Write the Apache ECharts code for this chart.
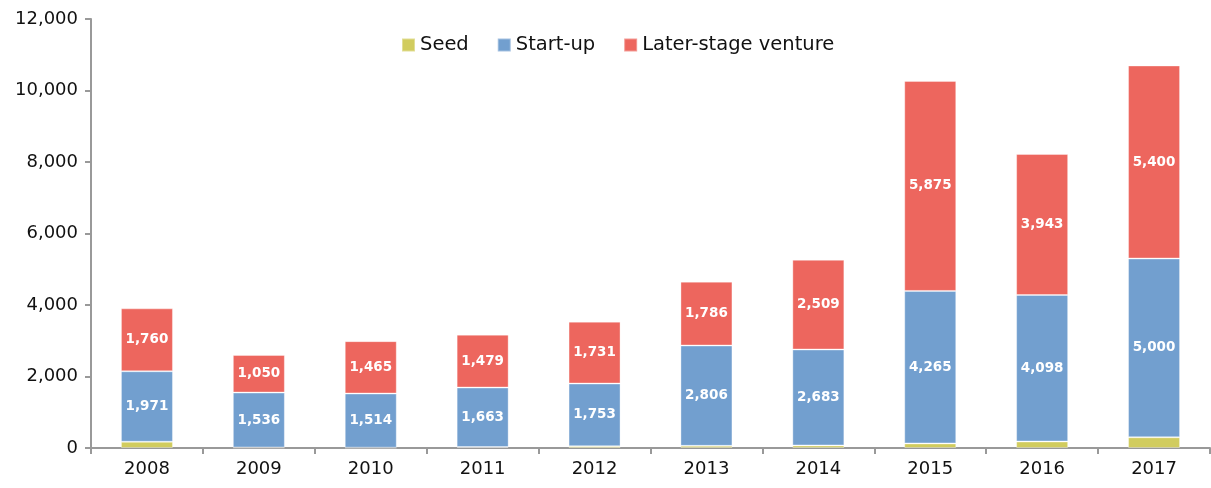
<!DOCTYPE html>
<html>
<head>
<meta charset="utf-8">
<script src="https://cdn.jsdelivr.net/npm/echarts@6/dist/echarts.min.js"></script>
<style>
  html, body { margin: 0; padding: 0; background: #fff; }
  #chart { width: 1211px; height: 488px; }
</style>
</head>
<body>
<div id="chart"></div>
<script>
// Venture capital investment by stage, EUR million
const years = ['2008', '2009', '2010', '2011', '2012', '2013', '2014', '2015', '2016', '2017'];
const seed = [175, 15, 10, 28, 50, 61, 72, 128, 182, 300];
const startUp = [1971, 1536, 1514, 1663, 1753, 2806, 2683, 4265, 4098, 5000];
const laterStage = [1760, 1050, 1465, 1479, 1731, 1786, 2509, 5875, 3943, 5400];
const seriesNames = ['Seed', 'Start-up', 'Later-stage venture'];
const colors = ['#D1CC5E', '#729FCF', '#ED665E'];

const FONT = 'DejaVu Sans';
const fmt = v => v.toLocaleString('en-US');

const chart = echarts.init(document.getElementById('chart'), null, { renderer: 'canvas' });

function barSeries(name, data, color, showLabel) {
  return {
    name: name,
    type: 'bar',
    stack: 'total',
    barWidth: 52,
    data: data,
    itemStyle: { color: color, borderColor: 'rgba(255,255,255,0.35)', borderWidth: 1 },
    label: {
      show: showLabel,
      position: 'inside',
      color: '#fff',
      fontFamily: FONT,
      fontWeight: 'bold',
      fontSize: 13.5,
      formatter: p => fmt(p.value)
    },
    emphasis: { disabled: true }
  };
}

chart.setOption({
  animation: false,
  textStyle: { fontFamily: FONT },
  grid: { left: 91, right: 1, top: 19, bottom: 40, containLabel: false },
  legend: {
    data: seriesNames,
    left: 396,
    top: 30,
    itemWidth: 13,
    itemHeight: 13,
    itemGap: 28,
    icon: 'rect',
    textStyle: { fontFamily: FONT, fontSize: 19.5, color: '#111' }
  },
  xAxis: {
    type: 'category',
    data: years,
    boundaryGap: true,
    axisLine: { lineStyle: { color: '#999', width: 2 } },
    axisTick: { show: true, length: 6, lineStyle: { color: '#999', width: 2 } },
    axisLabel: { color: '#111', fontFamily: FONT, fontSize: 18, margin: 12 }
  },
  yAxis: {
    type: 'value',
    min: 0,
    max: 12000,
    interval: 2000,
    splitLine: { show: false },
    axisLine: { show: true, lineStyle: { color: '#999', width: 2 } },
    axisTick: { show: true, length: 6, lineStyle: { color: '#999', width: 2 } },
    axisLabel: { color: '#111', fontFamily: FONT, fontSize: 18, margin: 13, formatter: v => fmt(v) }
  },
  series: [
    barSeries(seriesNames[0], seed, colors[0], false),
    barSeries(seriesNames[1], startUp, colors[1], true),
    barSeries(seriesNames[2], laterStage, colors[2], true)
  ]
});
</script>
</body>
</html>
